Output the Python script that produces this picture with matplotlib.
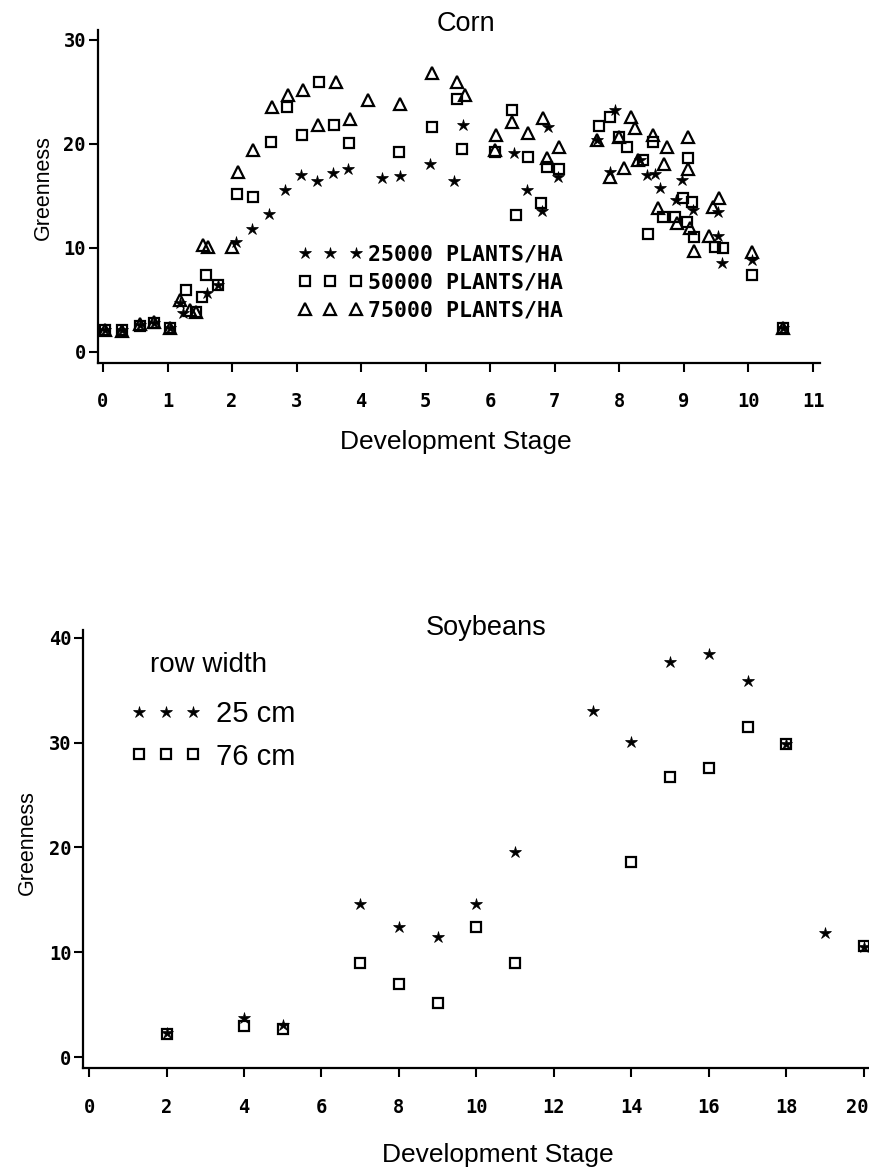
import numpy as np
import matplotlib
matplotlib.use('Agg')
import matplotlib.pyplot as plt
from matplotlib.font_manager import FontProperties
from matplotlib.transforms import offset_copy

# ---- Corn: greenness vs development stage, three plant densities ----
corn_x_25 = [0.03, 0.29, 0.57, 0.79, 1.04, 1.19, 1.24, 1.61, 1.78, 2.06, 2.31, 2.57,
             2.82, 3.07, 3.32, 3.56, 3.80, 4.32, 4.60, 5.07, 5.44, 5.58, 6.37, 6.57,
             6.80, 6.89, 7.05, 7.65, 7.93, 7.85, 8.32, 8.43, 8.55, 8.63, 8.88, 8.97,
             9.14, 9.53, 9.53, 9.59, 10.05, 10.53]
corn_y_25 = [2.1, 2.1, 2.6, 2.8, 2.3, 4.7, 3.75, 5.7, 6.4, 10.6, 11.8, 13.3,
             15.6, 17.0, 16.4, 17.2, 17.6, 16.7, 16.9, 18.1, 16.4, 21.8, 19.1, 15.6,
             13.6, 21.6, 16.8, 20.4, 23.3, 17.3, 18.5, 17.0, 17.1, 15.8, 14.6, 16.5,
             13.7, 13.5, 11.2, 8.6, 8.8, 2.3]

corn_x_50 = [0.03, 0.29, 0.57, 0.79, 1.04, 1.29, 1.44, 1.53, 1.60, 1.78, 2.08, 2.32,
             2.60, 2.85, 3.08, 3.35, 3.58, 3.81, 4.59, 5.10, 5.48, 5.56, 6.07, 6.34,
             6.40, 6.58, 6.79, 6.88, 7.06, 7.68, 7.85, 7.99, 8.12, 8.37, 8.44, 8.52,
             8.68, 8.86, 8.98, 9.05, 9.07, 9.13, 9.16, 9.48, 9.60, 10.05, 10.53]
corn_y_50 = [2.1, 2.1, 2.5, 2.8, 2.3, 6.0, 3.85, 5.3, 7.4, 6.4, 15.2, 14.9,
             20.2, 23.6, 20.9, 26.0, 21.8, 20.1, 19.2, 21.6, 24.3, 19.5, 19.2, 23.3,
             13.2, 18.75, 14.3, 17.8, 17.6, 21.7, 22.6, 20.7, 19.7, 18.5, 11.3, 20.2,
             13.0, 13.0, 14.8, 12.5, 18.65, 14.4, 11.1, 10.1, 10.0, 7.4, 2.3]

corn_x_75 = [0.03, 0.29, 0.57, 0.79, 1.04, 1.19, 1.35, 1.44, 1.55, 1.63, 2.00, 2.09,
             2.33, 2.62, 2.87, 3.10, 3.33, 3.61, 3.83, 4.11, 4.60, 5.10, 5.48, 5.61,
             6.09, 6.07, 6.34, 6.58, 6.82, 6.88, 7.06, 7.65, 7.85, 8.00, 8.07, 8.18,
             8.24, 8.29, 8.52, 8.60, 8.69, 8.74, 8.89, 9.06, 9.06, 9.09, 9.16, 9.39,
             9.45, 9.54, 10.05, 10.53]
corn_y_75 = [2.1, 2.0, 2.7, 2.9, 2.3, 5.0, 4.0, 3.85, 10.3, 10.1, 10.1, 17.3,
             19.4, 23.6, 24.7, 25.2, 21.8, 26.0, 22.4, 24.2, 23.8, 26.8, 26.0, 24.7,
             20.9, 19.4, 22.1, 21.1, 22.5, 18.65, 19.7, 20.4, 16.8, 20.7, 17.7, 22.6,
             21.5, 18.5, 20.9, 13.8, 18.1, 19.7, 12.4, 20.7, 17.6, 11.9, 9.7, 11.2,
             13.9, 14.8, 9.6, 2.3]

corn_labels = ['25000 PLANTS/HA', '50000 PLANTS/HA', '75000 PLANTS/HA']
corn_xticks = list(range(0, 12))
corn_yticks = [0, 10, 20, 30]

# ---- Soybeans: greenness vs development stage, two row widths ----
soy_x_25 = [2, 4, 5, 7, 8, 9, 10, 11, 13, 14, 15, 16, 17, 18, 19, 20]
soy_y_25 = [2.3, 3.7, 3.05, 14.6, 12.4, 11.5, 14.6, 19.6, 33.0, 30.1, 37.7, 38.5,
            35.9, 29.9, 11.8, 10.5]
soy_x_76 = [2, 4, 5, 7, 8, 9, 10, 11, 14, 15, 16, 17, 18, 20]
soy_y_76 = [2.2, 2.95, 2.7, 9.0, 7.0, 5.2, 12.4, 9.0, 18.6, 26.7, 27.6, 31.5, 29.9, 10.6]

soy_labels = ['25 cm', '76 cm']
soy_xticks = list(range(0, 21, 2))
soy_yticks = [0, 10, 20, 30, 40]

W, H = 869, 1176
fig = plt.figure(figsize=(W / 100, H / 100), dpi=100)

sans = 'Liberation Sans'
tickfont = FontProperties(family='DejaVu Sans Mono', weight='bold', size=13.5)


def style_axes(ax, xticks, yticks, xpad, ypad):
    for s in ['top', 'right']:
        ax.spines[s].set_visible(False)
    for s in ['left', 'bottom']:
        ax.spines[s].set_linewidth(1.6)
    ax.set_xticks(xticks)
    ax.set_yticks(yticks)
    ax.tick_params(axis='x', direction='out', length=6.5, width=1.5, pad=xpad)
    ax.tick_params(axis='y', direction='out', length=6.5, width=1.5, pad=ypad)
    for lab in ax.get_xticklabels() + ax.get_yticklabels():
        lab.set_fontproperties(tickfont)


star = dict(ls='none', marker='*', ms=9, color='black', mew=0.5)
square = dict(ls='none', marker='s', ms=7.5, mfc='none', mec='black', mew=1.6)
tri = dict(ls='none', marker='^', ms=8.5, mfc='none', mec='black', mew=1.6)

# ---------------- Corn ----------------
ax1 = fig.add_axes([97.8 / W, 1 - 363 / H, 721.7 / W, 333.4 / H])
h1, = ax1.plot(corn_x_25, corn_y_25, **star)
h2, = ax1.plot(corn_x_50, corn_y_50, **square)
h3, = ax1.plot(corn_x_75, corn_y_75, **tri)
ax1.set_xlim(-0.08, 11.1)
ax1.set_ylim(-1.06, 31.0)
style_axes(ax1, corn_xticks, corn_yticks, 14.5, 2)

ax1.set_xlabel('Development Stage', family=sans, fontsize=19)
ax1.xaxis.set_label_coords(0.4963, -0.20)
ax1.set_ylabel('Greenness', family=sans, fontsize=15.5)
ax1.yaxis.set_label_coords(-0.061, 0.525)
fig.text(466 / W, 1 - 24 / H, 'Corn', family=sans, fontsize=19.5,
         ha='center', va='center')

ax1.legend([h1, h2, h3], corn_labels, numpoints=3, frameon=False,
           loc='upper left', bbox_to_anchor=(298.5 / W, 1 - 245 / H),
           bbox_transform=fig.transFigure,
           prop=FontProperties(family='DejaVu Sans Mono', weight='bold', size=15.5),
           handlelength=2.97, handletextpad=0.26, labelspacing=0.37,
           borderpad=0, borderaxespad=0)

# ---------------- Soybeans ----------------
ax2 = fig.add_axes([83.2 / W, 1 - 1068 / H, 785.4 / W, 438 / H])
s1, = ax2.plot(soy_x_25, soy_y_25, **star)
s2, = ax2.plot(soy_x_76, soy_y_76, **square)
ax2.set_xlim(-0.15, 20.12)
ax2.set_ylim(-1.05, 40.76)
style_axes(ax2, soy_xticks, soy_yticks, 15, 2)

# the last tick label sits on the right edge of the page, keep it inside
last = ax2.get_xticklabels()[-1]
last.set_horizontalalignment('right')
last.set_transform(offset_copy(last.get_transform(), fig=fig, x=5, y=0, units='dots'))

ax2.set_xlabel('Development Stage', family=sans, fontsize=19)
ax2.xaxis.set_label_coords(0.528, -0.172)
ax2.set_ylabel('Greenness', family=sans, fontsize=15.5)
ax2.yaxis.set_label_coords(-0.058, 0.514)
fig.text(486 / W, 1 - 628 / H, 'Soybeans', family=sans, fontsize=19.5,
         ha='center', va='center')

fig.text(150 / W, 1 - 665 / H, 'row width', family=sans, fontsize=20,
         ha='left', va='center')
ax2.legend([s1, s2], soy_labels, numpoints=3, frameon=False,
           loc='upper left', bbox_to_anchor=(130 / W, 1 - 700 / H),
           bbox_transform=fig.transFigure,
           prop=FontProperties(family=sans, size=21),
           handlelength=2.45, handletextpad=0.5, labelspacing=0.5,
           borderpad=0, borderaxespad=0)

fig.savefig('out.png', dpi=100)
